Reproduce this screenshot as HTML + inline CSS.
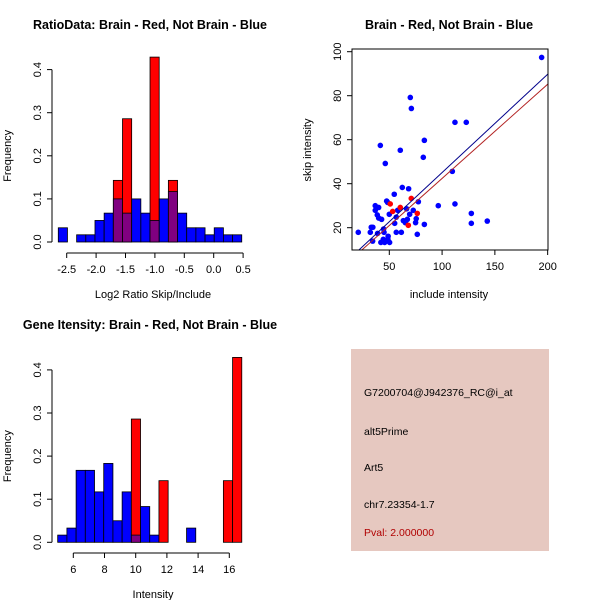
<!DOCTYPE html>
<html><head><meta charset="utf-8"><style>
html,body{margin:0;padding:0;background:#fff;}
svg{display:block;font-family:"Liberation Sans",sans-serif;}
</style></head><body>
<svg id="c" width="600" height="600" xmlns="http://www.w3.org/2000/svg">
<rect x="0" y="0" width="600" height="600" fill="#fff"/>
<g id="p1"></g>
<g id="p2"></g>
<g id="p3"></g>
<g>
<rect x="351" y="349" width="198" height="202" fill="#E6C8C0"/>
<text x="364" y="396" font-size="10.5" fill="#000">G7200704@J942376_RC@i_at</text>
<text x="364" y="435" font-size="10.5" fill="#000">alt5Prime</text>
<text x="364" y="471" font-size="10.5" fill="#000">Art5</text>
<text x="364" y="508" font-size="10.5" fill="#000">chr7.23354-1.7</text>
<text x="364" y="536" font-size="10.5" fill="#B00000">Pval: 2.000000</text>
</g>
</svg>
<script>
// ---- data ----
var ratioBinStart = -2.643, ratioBinWidth = 0.156;
var ratioBlue = [0.033,0,0.0167,0.0167,0.05,0.067,0.1,0.067,0.1,0.067,0.05,0.1,0.117,0.067,0.033,0.033,0.0167,0.033,0.0167,0.0167];
var ratioRed  = [0,0,0,0,0,0,0.143,0.286,0,0,0.429,0,0.143,0,0,0,0,0,0,0];
var ratioTicks = [-2.5,-2.0,-1.5,-1.0,-0.5,0.0,0.5];
var ratioTickLabels = ["-2.5","-2.0","-1.5","-1.0","-0.5","0.0","0.5"];
var freqTicks = [0,0.1,0.2,0.3,0.4];
var freqTickLabels = ["0.0","0.1","0.2","0.3","0.4"];

var intBinStart = 5.0, intBinWidth = 0.59;
var intBlue = [0.0167,0.033,0.167,0.167,0.117,0.183,0.05,0.117,0.0167,0.083,0.0167,0,0,0,0.033,0,0,0,0,0];
var intRed  = [0,0,0,0,0,0,0,0,0.286,0,0,0.143,0,0,0,0,0,0,0.143,0.429];
var intTicks = [6,8,10,12,14,16];

var blueX = [20.6,32,32.9,34.4,34.2,36.7,36.7,39.9,38.6,39.9,38.9,41.5,42.7,42,44.3,45.6,45,44.6,46.2,47.5,48.4,48.7,48.9,50.3,50,54.7,55.1,56.6,56.6,57.9,60.4,62.3,61.4,63.3,65.2,66.4,67.1,68.3,69.3,69.9,70.9,72.7,74.9,75.5,76.5,77.5,82.2,83.2,83.2,96.4,109.7,112.2,112.2,122.9,127.7,127.7,142.8,194.3];
var blueY = [17.9,17.9,20.2,20.2,13.9,30,27.9,29.2,25.8,24.4,17.4,57.4,23.8,13.3,14.7,13.3,17.9,19.4,49.2,32.1,31.5,14.7,16.1,13.3,26.1,35.2,22,24.8,17.9,27.9,55.2,38.3,17.9,23.2,22.3,28.6,23.8,37.7,26.1,79.2,74.2,27.9,22.3,24.1,17,31.8,52,59.7,21.5,30,45.6,67.9,30.8,67.9,26.5,22,23,97.4];
var redX = [50.9,53.2,60.4,68,70.8,76.5];
var redY = [30.8,27.4,29.2,21.1,33.3,26.5];
var blueFit = [0.4,0.4466];
var redFit = [-0.4,0.428];
var scXTicks = [50,100,150,200];
var scYTicks = [20,40,60,80,100];

// ---- helpers ----
var NS="http://www.w3.org/2000/svg";
function mk(parent,tag,attrs,txt){var e=document.createElementNS(NS,tag);for(var k in attrs)e.setAttribute(k,attrs[k]);if(txt!==undefined)e.textContent=txt;parent.appendChild(e);return e;}

function histogram(g,o){
  var xs=function(v){return o.x0px+(v-o.x0)*o.xpx;};
  var ys=function(v){return o.ybase-v*o.ypx;};
  for(var i=0;i<o.blue.length;i++){
    var xa=xs(o.binStart+i*o.binW), xb=xs(o.binStart+(i+1)*o.binW);
    var b=o.blue[i], r=o.red[i];
    if(b===0&&r===0)continue;
    var items=[];
    if(b>r){items.push([b,'#0000FF']);} else {items.push([r,'#FF0000']);}
    if(b>0&&r>0){items.push([Math.min(b,r),'#800080']);}
    for(var j=0;j<items.length;j++){
      var h=items[j][0];
      var e=mk(g,'rect',{x:xa,y:ys(h),width:xb-xa,height:ys(0)-ys(h),fill:items[j][1],stroke:'#000','stroke-width':0.8});
      
      
    }
  }
  mk(g,'line',{x1:o.yaxX,y1:ys(0),x2:o.yaxX,y2:ys(0.4),stroke:'#000'});
  for(var k=0;k<freqTicks.length;k++){
    var yy=ys(freqTicks[k]);
    mk(g,'line',{x1:o.yaxX-5,y1:yy,x2:o.yaxX,y2:yy,stroke:'#000'});
    var t=mk(g,'text',{x:o.yaxX-11,y:yy,'font-size':11,'text-anchor':'middle',transform:'rotate(-90 '+(o.yaxX-11)+' '+yy+')'},freqTickLabels[k]);
    
    
  }
  var yl=mk(g,'text',{x:11,y:(ys(0)+ys(0.4))/2,'font-size':11,'text-anchor':'middle',transform:'rotate(-90 11 '+((ys(0)+ys(0.4))/2)+')'},'Frequency');
  
  
  var ax=o.xaxY;
  mk(g,'line',{x1:xs(o.ticks[0]),y1:ax,x2:xs(o.ticks[o.ticks.length-1]),y2:ax,stroke:'#000'});
  for(var m=0;m<o.ticks.length;m++){
    var xx=xs(o.ticks[m]);
    mk(g,'line',{x1:xx,y1:ax,x2:xx,y2:ax+5,stroke:'#000'});
    var tl=mk(g,'text',{x:xx,y:ax+20,'font-size':11,'text-anchor':'middle'},o.labels[m]);
    
    
  }
  var xl=mk(g,'text',{x:(o.yaxX+248)/2+3,y:ax+45,'font-size':11,'text-anchor':'middle'},o.xlabel);
  
  
  var ti=mk(g,'text',{x:o.titleX,y:o.titleY,'font-size':12.5,'font-weight':'bold','text-anchor':'middle'},o.title);
  
  
}

histogram(document.getElementById('p1'),{
  x0:-2.5,x0px:66.7,xpx:58.8,ybase:242,ypx:431,binStart:ratioBinStart,binW:ratioBinWidth,
  blue:ratioBlue,red:ratioRed,yaxX:52,xaxY:253,ticks:ratioTicks,labels:ratioTickLabels,
  xlabel:'Log2 Ratio Skip/Include',title:'RatioData: Brain - Red, Not Brain - Blue',titleX:150,titleY:29
});
histogram(document.getElementById('p3'),{
  x0:6,x0px:73.3,xpx:15.6,ybase:542.3,ypx:431,binStart:intBinStart,binW:intBinWidth,
  blue:intBlue,red:intRed,yaxX:52,xaxY:553,ticks:intTicks,labels:intTicks.map(String),
  xlabel:'Intensity',title:'Gene Itensity: Brain - Red, Not Brain - Blue',titleX:150,titleY:329
});

(function(){
  var g=document.getElementById('p2');
  var L=352,R=548,T=49,B=250;
  var xs=function(v){return 389.3+(v-50)*1.0557;};
  var ys=function(v){return 227.7-(v-20)*2.2;};
  var clip=mk(g,'clipPath',{id:'scclip'});
  mk(clip,'rect',{x:L,y:T,width:R-L,height:B-T});
  var lg=mk(g,'g',{'clip-path':'url(#scclip)'});
  function fitLine(f,col,name){
    var xa=0,xb=260;
    var e=mk(lg,'line',{x1:xs(xa),y1:ys(f[0]+f[1]*xa),x2:xs(xb),y2:ys(f[0]+f[1]*xb),stroke:col,'stroke-width':1});
    
    
  }
  for(var i=0;i<blueX.length;i++){
    var c=mk(lg,'circle',{cx:xs(blueX[i]),cy:ys(blueY[i]),r:2.8,fill:'#0000FF'});
    
    
  }
  for(var j=0;j<redX.length;j++){
    var c2=mk(lg,'circle',{cx:xs(redX[j]),cy:ys(redY[j]),r:2.8,fill:'#FF0000'});
    
    
  }
  fitLine(blueFit,'#00008B','blue-fit-line');
  fitLine(redFit,'#B22222','red-fit-line');
  mk(g,'rect',{x:L,y:T,width:R-L,height:B-T,fill:'none',stroke:'#000'});
  mk(g,'line',{x1:xs(scXTicks[0]),y1:B,x2:xs(scXTicks[scXTicks.length-1]),y2:B,stroke:'#000'});
  for(var a=0;a<scXTicks.length;a++){
    var xx=xs(scXTicks[a]);
    mk(g,'line',{x1:xx,y1:B,x2:xx,y2:B+5,stroke:'#000'});
    var t=mk(g,'text',{x:xx,y:B+20,'font-size':11,'text-anchor':'middle'},String(scXTicks[a]));
    
    
  }
  for(var b=0;b<scYTicks.length;b++){
    var yy=ys(scYTicks[b]);
    mk(g,'line',{x1:L-5,y1:yy,x2:L,y2:yy,stroke:'#000'});
    var t2=mk(g,'text',{x:L-11,y:yy,'font-size':11,'text-anchor':'middle',transform:'rotate(-90 '+(L-11)+' '+yy+')'},String(scYTicks[b]));
    
    
  }
  var xl=mk(g,'text',{x:449,y:298,'font-size':11,'text-anchor':'middle'},'include intensity');
  
  
  var yl=mk(g,'text',{x:311,y:150,'font-size':11,'text-anchor':'middle',transform:'rotate(-90 311 150)'},'skip intensity');
  
  
  var ti=mk(g,'text',{x:449,y:29,'font-size':12.5,'font-weight':'bold','text-anchor':'middle'},'Brain - Red, Not Brain - Blue');
  
  
})();
</script>
</body></html>
